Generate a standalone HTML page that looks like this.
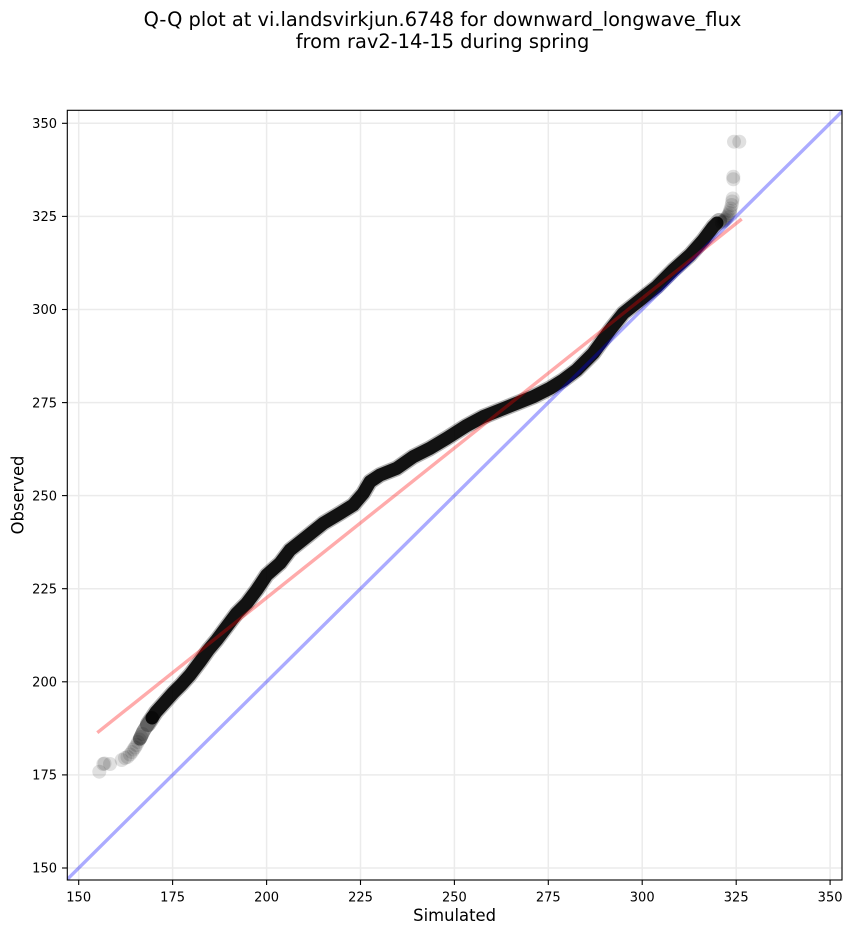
<!DOCTYPE html>
<html>
<head>
<meta charset="utf-8">
<style>
  html, body { margin: 0; padding: 0; background: #ffffff; }
  body { width: 852px; height: 934px; overflow: hidden; }
  svg { display: block; }
  text { font-family: "DejaVu Sans", "Liberation Sans", sans-serif; fill: #000; }
</style>
</head>
<body>
<svg width="852" height="934" viewBox="0 0 852 934" xmlns="http://www.w3.org/2000/svg">
  <defs>
    <clipPath id="ax">
      <rect x="67.3" y="110.3" width="774.7" height="769.7"/>
    </clipPath>
  </defs>
  <rect x="0" y="0" width="852" height="934" fill="#ffffff"/>

  <!-- Title -->
  <text x="442.5" y="26" font-size="19.4" text-anchor="middle">Q-Q plot at vi.landsvirkjun.6748 for downward_longwave_flux</text>
  <text x="442.5" y="48" font-size="19.4" text-anchor="middle">from rav2-14-15 during spring</text>

  <!-- Grid -->
  <g stroke="#ebebeb" stroke-width="1.5" clip-path="url(#ax)">
    <line x1="78.7" y1="110" x2="78.7" y2="880"/>
    <line x1="172.6" y1="110" x2="172.6" y2="880"/>
    <line x1="266.6" y1="110" x2="266.6" y2="880"/>
    <line x1="360.5" y1="110" x2="360.5" y2="880"/>
    <line x1="454.4" y1="110" x2="454.4" y2="880"/>
    <line x1="548.3" y1="110" x2="548.3" y2="880"/>
    <line x1="642.2" y1="110" x2="642.2" y2="880"/>
    <line x1="736.2" y1="110" x2="736.2" y2="880"/>
    <line x1="830.1" y1="110" x2="830.1" y2="880"/>
    <line x1="67" y1="868" x2="842" y2="868"/>
    <line x1="67" y1="774.9" x2="842" y2="774.9"/>
    <line x1="67" y1="681.8" x2="842" y2="681.8"/>
    <line x1="67" y1="588.7" x2="842" y2="588.7"/>
    <line x1="67" y1="495.6" x2="842" y2="495.6"/>
    <line x1="67" y1="402.6" x2="842" y2="402.6"/>
    <line x1="67" y1="309.5" x2="842" y2="309.5"/>
    <line x1="67" y1="216.4" x2="842" y2="216.4"/>
    <line x1="67" y1="123.3" x2="842" y2="123.3"/>
  </g>

  <!-- Scatter -->
  <g clip-path="url(#ax)">
    <g fill="#000" fill-opacity="0.12">
      <!-- lower tail -->
      <circle cx="99.3" cy="771.7" r="7"/>
      <circle cx="103.3" cy="764" r="7"/>
      <circle cx="104.5" cy="763.5" r="7"/>
      <circle cx="110" cy="764" r="7"/>
      <circle cx="121.7" cy="760" r="7"/>
      <circle cx="125" cy="758" r="7"/>
      <circle cx="127.5" cy="757" r="7"/>
      <circle cx="130" cy="754.5" r="7"/>
      <circle cx="132" cy="752" r="7"/>
      <circle cx="133.5" cy="749.5" r="7"/>
      <circle cx="135" cy="747.5" r="7"/>
      <circle cx="136.5" cy="745" r="7"/>
      <circle cx="138" cy="742" r="7"/>
      <circle cx="139.5" cy="739.5" r="7"/>
      <circle cx="141" cy="737" r="7"/>
      <circle cx="142.5" cy="734" r="7"/>
      <!-- upper tail -->
      <circle cx="734" cy="141.7" r="7"/>
      <circle cx="739.3" cy="141.7" r="7"/>
      <circle cx="733.3" cy="176.7" r="7"/>
      <circle cx="733.3" cy="179.3" r="7"/>
      <circle cx="732.7" cy="198.5" r="7"/>
      <circle cx="732.2" cy="201.5" r="7"/>
      <circle cx="731.7" cy="205" r="7"/>
      <circle cx="730.7" cy="208.5" r="7"/>
      <circle cx="730" cy="211" r="7"/>
      <circle cx="729.5" cy="213" r="7"/>
      <circle cx="728.3" cy="215" r="7"/>
      <circle cx="727.5" cy="216.5" r="7"/>
      <circle cx="726.5" cy="218" r="7"/>
      <circle cx="725" cy="219.5" r="7"/>
      <circle cx="724" cy="220.5" r="7"/>
      <circle cx="723" cy="221.5" r="7"/>
      <circle cx="721.7" cy="222.5" r="7"/>
    </g>
    <!-- semi-dense transition at lower end -->
    <path d="M140,738.5 L143,732 L148,724 L152,718"
      fill="none" stroke="#000" stroke-opacity="0.45" stroke-width="14" stroke-linejoin="round" stroke-linecap="round"/>
    <path d="M148,724 L152,718 L156,712 L165,702 L173,693 L181,685 L190,675 L200,661.7 L208.3,650 L216.7,640 L226.7,626.7 L236.7,613.3 L246.7,603.3 L256.7,590 L266.7,575 L280,563.3 L290,550 L306.7,536.7 L323.3,523.3 L340,513.3 L353.3,505 L363.3,493.3 L370,481.7 L380,475 L396.7,468.3 L413.3,456.7 L430,448.3 L446.7,438.3 L466,426 L483.3,416.7 L500,410 L516.7,403.3 L533.3,396.7 L550,388.3 L563.3,380 L576.7,370 L593.3,353.3 L610,330 L623.3,313.3 L640,300 L656.7,286.7 L673.3,270 L690,255 L703.3,240 L713.3,226.7 L719,221"
      fill="none" stroke="#000" stroke-opacity="0.3" stroke-width="16" stroke-linejoin="round" stroke-linecap="round"/>
    <path d="M152,718 L156,712 L165,702 L173,693 L181,685 L190,675 L200,661.7 L208.3,650 L216.7,640 L226.7,626.7 L236.7,613.3 L246.7,603.3 L256.7,590 L266.7,575 L280,563.3 L290,550 L306.7,536.7 L323.3,523.3 L340,513.3 L353.3,505 L363.3,493.3 L370,481.7 L380,475 L396.7,468.3 L413.3,456.7 L430,448.3 L446.7,438.3 L466,426 L483.3,416.7 L500,410 L516.7,403.3 L533.3,396.7 L550,388.3 L563.3,380 L576.7,370 L593.3,353.3 L610,330 L623.3,313.3 L640,300 L656.7,286.7 L673.3,270 L690,255 L703.3,240 L713.3,226.7 L717,223"
      fill="none" stroke="#000" stroke-opacity="0.9" stroke-width="13" stroke-linejoin="round" stroke-linecap="round"/>
  </g>

  <!-- Lines -->
  <g clip-path="url(#ax)">
    <line x1="67.3" y1="879.3" x2="842" y2="111.5" stroke="#0000ff" stroke-opacity="0.33" stroke-width="3.4"/>
    <line x1="97.3" y1="732.7" x2="741.7" y2="219" stroke="#ff0000" stroke-opacity="0.33" stroke-width="3.4"/>
  </g>

  <!-- Spines -->
  <rect x="67.3" y="110.3" width="774.7" height="769.7" fill="none" stroke="#000" stroke-width="1.1"/>

  <!-- Ticks -->
  <g stroke="#000" stroke-width="1.1">
    <line x1="78.7" y1="880" x2="78.7" y2="885"/>
    <line x1="172.6" y1="880" x2="172.6" y2="885"/>
    <line x1="266.6" y1="880" x2="266.6" y2="885"/>
    <line x1="360.5" y1="880" x2="360.5" y2="885"/>
    <line x1="454.4" y1="880" x2="454.4" y2="885"/>
    <line x1="548.3" y1="880" x2="548.3" y2="885"/>
    <line x1="642.2" y1="880" x2="642.2" y2="885"/>
    <line x1="736.2" y1="880" x2="736.2" y2="885"/>
    <line x1="830.1" y1="880" x2="830.1" y2="885"/>
    <line x1="62" y1="868" x2="67.3" y2="868"/>
    <line x1="62" y1="774.9" x2="67.3" y2="774.9"/>
    <line x1="62" y1="681.8" x2="67.3" y2="681.8"/>
    <line x1="62" y1="588.7" x2="67.3" y2="588.7"/>
    <line x1="62" y1="495.6" x2="67.3" y2="495.6"/>
    <line x1="62" y1="402.6" x2="67.3" y2="402.6"/>
    <line x1="62" y1="309.5" x2="67.3" y2="309.5"/>
    <line x1="62" y1="216.4" x2="67.3" y2="216.4"/>
    <line x1="62" y1="123.3" x2="67.3" y2="123.3"/>
  </g>

  <g font-size="13" text-anchor="middle">
    <text x="78.7" y="901.5">150</text>
    <text x="172.6" y="901.5">175</text>
    <text x="266.6" y="901.5">200</text>
    <text x="360.5" y="901.5">225</text>
    <text x="454.4" y="901.5">250</text>
    <text x="548.3" y="901.5">275</text>
    <text x="642.2" y="901.5">300</text>
    <text x="736.2" y="901.5">325</text>
    <text x="830.1" y="901.5">350</text>
  </g>
  <g font-size="13" text-anchor="end">
    <text x="57" y="872.7">150</text>
    <text x="57" y="779.6">175</text>
    <text x="57" y="686.5">200</text>
    <text x="57" y="593.4">225</text>
    <text x="57" y="500.3">250</text>
    <text x="57" y="407.3">275</text>
    <text x="57" y="314.2">300</text>
    <text x="57" y="221.1">325</text>
    <text x="57" y="128">350</text>
  </g>

  <!-- Axis labels -->
  <text x="454.6" y="921" font-size="16.4" text-anchor="middle">Simulated</text>
  <text transform="translate(23.3,495) rotate(-90)" font-size="16.4" text-anchor="middle">Observed</text>
</svg>
</body>
</html>
